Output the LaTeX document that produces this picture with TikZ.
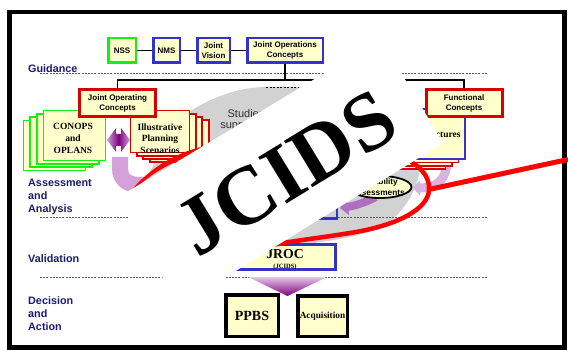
\documentclass[tikz,border=0pt]{standalone}
\usepackage{fontspec}
\setmainfont{Liberation Serif}
\setsansfont{Liberation Sans}
\usetikzlibrary{arrows.meta,shapes.geometric}
\definecolor{boxfill}{RGB}{255,255,204}
\definecolor{navy}{RGB}{26,26,122}
\definecolor{bblue}{RGB}{51,51,204}
\definecolor{bgreen}{RGB}{20,240,20}
\definecolor{bred}{RGB}{215,0,0}
\definecolor{swoosh}{RGB}{210,210,210}
\definecolor{purpL}{RGB}{205,160,215}
\definecolor{purpD}{RGB}{128,0,128}
\definecolor{lavU}{RGB}{214,160,218}
\definecolor{lavB}{RGB}{218,180,224}
\definecolor{purpM}{RGB}{176,110,192}
\definecolor{sepgray}{RGB}{90,90,90}
\definecolor{studygray}{RGB}{50,50,50}
\definecolor{lredline}{RGB}{255,0,0}
\tikzset{
  topbox/.style={draw=bblue, line width=2.5pt, fill=boxfill, align=center, inner sep=0pt, font=\sffamily\bfseries\fontsize{8}{9.5}\selectfont},
  redbox/.style={draw=bred, line width=3pt, fill=boxfill, align=center, inner sep=0pt, font=\sffamily\bfseries\fontsize{8}{10}\selectfont, minimum width=76pt, minimum height=27pt},
  serifb/.style={font=\rmfamily\bfseries\fontsize{9.5}{11.7}\selectfont, align=center, inner sep=0pt},
  blackbox/.style={draw=black, line width=3.5pt, fill=boxfill, inner sep=0pt},
  sidelabel/.style={anchor=north west, inner sep=0pt, align=left, text=navy, font=\sffamily\bfseries\fontsize{10.8}{12.8}\selectfont},
  sepline/.style={sepgray, line width=0.6pt, dash pattern=on 2pt off 1.2pt},
  conn/.style={black, line width=1.5pt},
  gstack/.style={draw=bgreen, line width=1.6pt, fill=boxfill},
  rstack/.style={draw=bred, line width=1.8pt, fill=boxfill},
  redstroke/.style={lredline, line width=4.5pt},
}
\begin{document}
\begin{tikzpicture}[x=1pt,y=-1pt]
\useasboundingbox (0,0) rectangle (568,350);
\fill[white] (0,0) rectangle (568,350);

% gray swoosh of studies
\fill[swoosh] (140,195) -- (150,172) .. controls (165,140) and (180,118) .. (192,110)
  .. controls (215,96) and (240,87) .. (267,87) -- (300,87)
  .. controls (360,87) and (410,110) .. (420,150)
  .. controls (425,180) and (405,215) .. (380,228)
  .. controls (350,240) and (310,244) .. (280,246) -- (250,230) -- (200,210) -- cycle;
\draw[black, line width=0.8pt, dash pattern=on 2pt off 1.5pt] (266,87.5) -- (298,87.5);
\node[anchor=north, inner sep=0pt, align=center, text=studygray, font=\sffamily\fontsize{11}{11}\selectfont] (studies) at (246,109) {Studies\\supporting};

% separators
\draw[sepline] (40,73.5) -- (487,73.5);
\draw[sepline] (40,217) -- (487,217);
\draw[sepline] (40,277.5) -- (487,277.5);

% guidance row
\node[topbox, draw=bgreen, minimum width=27.5pt, minimum height=24.5pt] (nss) at (122,50.5) {NSS};
\node[topbox, minimum width=26.5pt, minimum height=24.5pt] (nms) at (166.5,50.5) {NMS};
\node[topbox, minimum width=32.5pt, minimum height=24.5pt] (jv) at (213.5,50.5) {Joint\\Vision};
\node[topbox, minimum width=75.5pt, minimum height=24.5pt] (jopc) at (285,50.5) {Joint Operations\\Concepts};
\draw[conn] (nss) -- (nms);
\draw[conn] (nms) -- (jv);
\draw[conn] (jv) -- (jopc);

% stacks
\foreach \k in {3,2,1,0} \draw[gstack, shift={(-6.7*\k,3.4*\k)}] (43.5,110.5) rectangle (105.5,160.5);
\foreach \k in {3,2,1,0} \draw[rstack, shift={(6.4*\k,3.3*\k)}] (130.5,110.5) rectangle (189.5,152.5);
\node[serifb] (conops) at (73,138.5) {CONOPS\\and\\OPLANS};
\node[serifb] (ips) at (160,138.5) {Illustrative\\Planning\\Scenarios};

% purple arrows left
\draw[lavU, line width=16pt] (120,157) -- (120,168) .. controls (120,180) and (128,185) .. (140,185) -- (165,185);
\shade[left color=purpL, right color=purpL, middle color=purpD] (107,140) -- (116,128) -- (116,134) -- (121,134) -- (121,128) -- (130,140) -- (121,152) -- (121,146) -- (116,146) -- (116,152) -- cycle;

% concept boxes and bus
\node[redbox] (joc) at (117.5,103) {Joint Operating\\Concepts};
\coordinate (bus) at (285,80);
\draw[conn] (jopc.south) -- (bus);

% architectures
\draw[lavB, line width=9pt, -{Triangle[length=7pt,width=15pt]}] (448,150) .. controls (448,178) and (440,188) .. (413,188);
\foreach \k in {3,2,1} \draw[rstack, line width=1.5pt, shift={(-6.5*\k,3.4*\k)}] (401,109) rectangle (465,159);
\node[draw=bblue, line width=2pt, fill=boxfill, minimum width=64pt, minimum height=50pt, serifb] (arch) at (433,134) {Architectures};
\node[redbox] (fc) at (464,103) {Functional\\Concepts};
\draw[conn] (joc.north) |- (bus) -| (fc.north);

% capability assessments
\draw[bblue, line width=2.5pt] (300,218.5) -- (337,218.5) -- (337,195);
\draw[purpM, line width=8pt, -{Triangle[length=8pt,width=16pt]}] (376,197) .. controls (364,203) and (354,206) .. (340,208);
\node[ellipse, draw=black, line width=1.8pt, fill=boxfill, minimum width=63pt, minimum height=22pt, inner sep=0pt] (capell) at (380,187) {};
\node[align=center, inner sep=0pt, font=\sffamily\bfseries\fontsize{8.3}{10.3}\selectfont] (capt) at (378,187) {Capability\\Assessments};

% validation and decision
\node[draw=bblue, line width=3pt, fill=boxfill, minimum width=101pt, minimum height=25pt, inner sep=0pt] (jroc) at (285,257) {};
\node[inner sep=0pt, font=\rmfamily\bfseries\fontsize{13.7}{14}\selectfont] (jroct) at (285,254) {JROC};
\node[inner sep=0pt, font=\rmfamily\bfseries\fontsize{6.5}{7}\selectfont] (jrocs) at (285,266.5) {(JCIDS)};
\shade[top color=purpL!60!white, bottom color=purpD] (248,277) -- (327,277) -- (287.5,296) -- cycle;
\node[blackbox, minimum width=52.5pt, minimum height=41.5pt, font=\rmfamily\bfseries\fontsize{14}{16}\selectfont] (ppbs) at (252,315.5) {PPBS};
\node[blackbox, minimum width=49.5pt, minimum height=40.5pt, font=\rmfamily\bfseries\fontsize{9.3}{11}\selectfont] (acq) at (322.5,316) {Acquisition};

% red strokes
\draw[redstroke] (385,152) .. controls (418,160) and (430,175) .. (429,190)
  .. controls (428,210) and (395,226) .. (350,233)
  .. controls (320,238) and (290,241) .. (268,246);
\fill[lredline] (127,196) .. controls (140,178) and (165,155) .. (205,146) -- (245,138) -- (245,145) -- (205,152) .. controls (170,160) and (145,178) .. (127,196) -- cycle;

% JCIDS banner
\fill[white] (117,198) -- (381,39) -- (443,143) -- (179,306) -- cycle;
\node[rotate=31.4, inner sep=0pt, font=\rmfamily\bfseries\fontsize{83}{90}\selectfont] (jcids) at (286,173) {JCIDS};

% side labels
\node[sidelabel] (lguid) at (28,64) {Guidance};
\node[sidelabel] (lassess) at (28,179) {Assessment\\and\\Analysis};
\node[sidelabel] (lvalid) at (28,254) {Validation};
\node[sidelabel] (ldecis) at (28,296.5) {Decision\\and\\Action};

% frame
\draw[line width=4.5pt] (9.3,12) rectangle (564.5,347.5);
\draw[redstroke, line width=5pt] (568,159.5) -- (431,189);
\end{tikzpicture}
\end{document}
